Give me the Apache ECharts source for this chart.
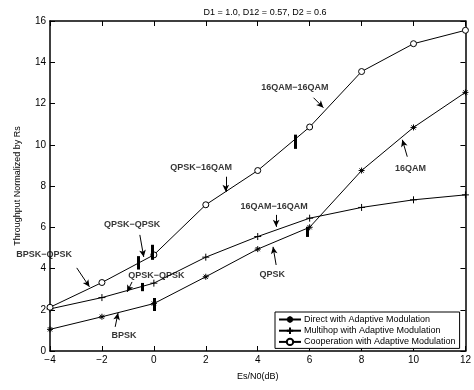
<!DOCTYPE html>
<html>
<head>
<meta charset="utf-8">
<script src="https://cdn.jsdelivr.net/npm/echarts@6/dist/echarts.min.js"></script>
<style>
  html, body { margin: 0; padding: 0; background: #fff; }
  #chart { width: 474px; height: 390px; }
</style>
</head>
<body>
<div id="chart"></div>
<script>
// 横轴 Es/N0(dB)
var snr = [-4, -2, 0, 2, 4, 6, 8, 10, 12];
// 各方案吞吐量
var direct = [1.05, 1.66, 2.3, 3.6, 4.94, 6.0, 8.75, 10.84, 12.54];
var multihop = [2.04, 2.59, 3.29, 4.55, 5.55, 6.44, 6.96, 7.33, 7.57];
var coop = [2.12, 3.32, 4.66, 7.09, 8.75, 10.86, 13.55, 14.9, 15.55];
var seriesNames = ['Direct with Adaptive Modulation', 'Multihop with Adaptive Modulation', 'Cooperation with Adaptive Modulation'];

// 注释文字及其位置
var annoText = ['16QAM\u221216QAM', 'QPSK\u221216QAM', 'QPSK\u2212QPSK', 'BPSK\u2212QPSK', '16QAM\u221216QAM', 'QPSK\u2212QPSK', '16QAM', 'QPSK', 'BPSK'];
var annoX = [5.43, 1.82, -0.84, -4.23, 4.63, 0.1, 9.88, 4.56, -1.15];
var annoY = [12.77, 8.88, 6.12, 4.66, 6.99, 3.64, 8.83, 3.69, 0.73];
// 箭头起点和终点
var arrowFrom = [[6.15, 12.28], [2.77, 8.45], [-0.54, 5.63], [-2.97, 4.03], [4.71, 6.6], [-0.84, 3.35], [9.76, 9.42], [4.71, 4.17], [-1.49, 1.17]];
var arrowTo = [[6.53, 11.8], [2.77, 7.72], [-0.39, 4.56], [-2.48, 3.11], [4.71, 6.02], [-1.03, 2.86], [9.57, 10.24], [4.59, 5.05], [-1.38, 1.84]];
// 调制切换处的粗竖线 [x, y下, y上]
var switchBars = [[-0.62, 3.95, 4.6], [-0.05, 4.42, 5.15], [-0.43, 2.9, 3.3], [0, 1.94, 2.57], [5.44, 9.8, 10.49], [5.92, 5.53, 6.02]];

var chart = echarts.init(document.getElementById('chart'));

function pairs(ys) {
  return snr.map(function (x, i) { return [x, ys[i]]; });
}

var fontFam = '"Liberation Sans", Arial, sans-serif';
var starPath = 'path://M0,5L10,5M5,0L5,10M1.5,1.5L8.5,8.5M8.5,1.5L1.5,8.5';
var plusPath = 'path://M0,5L10,5M5,0L5,10';
var ringPath = 'path://M5,0A5,5 0 1,1 5,10A5,5 0 1,1 5,0Z';

var axisCommon = {
  axisLine: { show: true, onZero: false, lineStyle: { color: '#000', width: 1.5 } },
  axisTick: { show: true, inside: true, length: 5, lineStyle: { color: '#000', width: 1 } },
  splitLine: { show: false }
};

var option = {
  animation: false,
  backgroundColor: '#fff',
  title: {
    text: 'D1 = 1.0, D12 = 0.57, D2 = 0.6',
    left: 260,
    top: 3,
    textAlign: 'center',
    textStyle: { fontFamily: fontFam, fontSize: 9, fontWeight: 'normal', color: '#000' }
  },
  grid: { left: 50, right: 3, top: 21, bottom: 39 },
  legend: {
    data: seriesNames,
    orient: 'vertical',
    left: 275,
    top: 312,
    padding: [3, 4, 2, 3],
    itemGap: 1,
    itemWidth: 22,
    itemHeight: 8,
    borderColor: '#000',
    borderWidth: 1,
    backgroundColor: '#fff',
    textStyle: { fontFamily: fontFam, fontSize: 9, color: '#000', padding: [0, 0, 0, -2] }
  },
  xAxis: [
    Object.assign({
      type: 'value', min: -4, max: 12, interval: 2,
      name: 'Es/N0(dB)', nameLocation: 'middle', nameGap: 21,
      nameTextStyle: { fontFamily: fontFam, fontSize: 9, color: '#000' },
      axisLabel: {
        color: '#000', fontFamily: fontFam, fontSize: 10, margin: 4,
        formatter: function (v) { return String(v).replace('-', '\u2212'); }
      }
    }, axisCommon),
    Object.assign({
      type: 'value', min: -4, max: 12, interval: 2, position: 'top',
      axisLabel: { show: false }
    }, axisCommon)
  ],
  yAxis: [
    Object.assign({
      type: 'value', min: 0, max: 16, interval: 2,
      name: 'Throughput Normalized by Rs', nameLocation: 'middle', nameGap: 28,
      nameTextStyle: { fontFamily: fontFam, fontSize: 9, color: '#000' },
      axisLabel: { color: '#000', fontFamily: fontFam, fontSize: 10, margin: 4 }
    }, axisCommon),
    Object.assign({
      type: 'value', min: 0, max: 16, interval: 2, position: 'right',
      axisLabel: { show: false }
    }, axisCommon)
  ],
  series: [
    {
      name: seriesNames[0], type: 'line', data: pairs(direct),
      symbol: starPath, symbolSize: 6,
      itemStyle: { color: '#000', borderColor: '#000', borderWidth: 1 },
      lineStyle: { color: '#000', width: 1 }
    },
    {
      name: seriesNames[1], type: 'line', data: pairs(multihop),
      symbol: plusPath, symbolSize: 7,
      itemStyle: { color: 'none', borderColor: '#000', borderWidth: 1 },
      lineStyle: { color: '#000', width: 1 }
    },
    {
      name: seriesNames[2], type: 'line', data: pairs(coop),
      symbol: ringPath, symbolSize: 6,
      itemStyle: { color: '#fff', borderColor: '#000', borderWidth: 1 },
      lineStyle: { color: '#000', width: 1 }
    },
    {
      // 注释文字 + 箭头
      name: 'anno', type: 'scatter', clip: false, silent: true,
      symbolSize: 0,
      data: annoText.map(function (t, i) { return { value: [annoX[i], annoY[i]], name: t }; }),
      label: {
        show: true, position: 'inside', formatter: '{b}',
        fontFamily: fontFam, fontSize: 9, fontWeight: 'bold', color: '#000'
      },
      markLine: {
        silent: true, animation: false,
        symbol: ['none', 'arrow'], symbolSize: [5, 7],
        label: { show: false },
        lineStyle: { color: '#000', width: 1, type: 'solid' },
        data: arrowFrom.map(function (p, i) {
          return [{ coord: p }, { coord: arrowTo[i] }];
        })
      }
    },
    {
      // 粗竖线
      name: 'bars', type: 'scatter', silent: true, symbolSize: 0, data: [],
      markLine: {
        silent: true, animation: false,
        symbol: ['none', 'none'],
        label: { show: false },
        lineStyle: { color: '#000', width: 3, type: 'solid' },
        data: switchBars.map(function (b) {
          return [{ coord: [b[0], b[1]] }, { coord: [b[0], b[2]] }];
        })
      }
    }
  ]
};

chart.setOption(option);
</script>
</body>
</html>
